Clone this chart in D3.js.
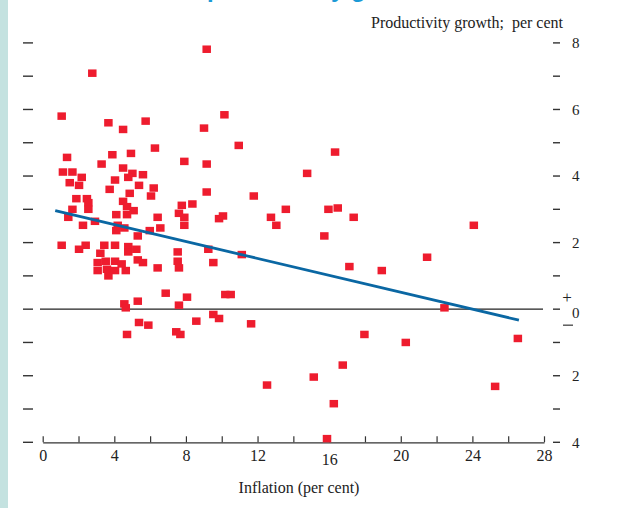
<!DOCTYPE html>
<html>
<head>
<meta charset="utf-8">
<script src="https://cdn.jsdelivr.net/npm/d3@7"></script>
<style>
  html, body { margin: 0; padding: 0; background: #fff; }
  svg { display: block; }
  text { font-family: "Liberation Serif", "Times New Roman", serif; fill: #222; }
</style>
</head>
<body>
<svg id="chart" width="624" height="508"></svg>
<script>
// ========== DATA ==========
// one entry per country-period: inflation (%) and productivity growth (%)
const inflation = [
  9.16, 2.77, 1.06, 3.67, 4.49, 5.75, 9.01, 6.27, 1.36, 3.89, 4.93, 3.29, 7.91, 9.16,
  1.13, 1.66, 4.49, 2.18, 5.01, 4.78, 5.60, 1.51, 2.03, 4.04, 5.38, 3.74, 6.20, 4.86,
  6.05, 9.16, 1.88, 2.47, 2.55, 4.49, 4.71, 7.77, 8.36, 1.66, 2.55, 5.08, 7.61, 1.43,
  4.11, 4.71, 6.42, 7.91, 2.92, 2.25, 4.19, 7.91, 4.11, 4.56, 6.57, 5.98, 5.31,
  1.06, 2.40, 2.03, 3.44, 4.04, 4.78, 5.23, 3.22, 4.78, 5.31, 5.60, 7.54, 9.25, 7.54,
  7.61, 6.42, 9.53, 3.07, 3.52, 4.04, 4.41, 3.07, 3.59, 4.04, 4.64, 3.67, 6.87, 8.06,
  5.31, 4.56, 4.64, 7.61, 5.38, 5.90, 8.58, 4.71, 7.46, 7.69,
  10.15, 10.95, 16.33, 14.77, 11.79, 13.58, 15.96, 16.48, 9.85, 10.07, 12.75, 13.05,
  17.37, 15.73, 11.12, 17.13, 10.20, 10.50, 9.53, 9.85, 11.64, 17.97, 16.76, 15.14,
  12.53, 16.26, 15.88, 24.08, 18.94, 21.47, 22.44, 20.28, 26.54, 25.27
];
const productivity = [
  7.81, 7.09, 5.80, 5.60, 5.40, 5.65, 5.44, 4.84, 4.56, 4.64, 4.68, 4.36, 4.44, 4.36,
  4.12, 4.12, 4.24, 3.96, 4.08, 3.96, 4.04, 3.80, 3.72, 3.88, 3.72, 3.60, 3.64, 3.48,
  3.40, 3.52, 3.32, 3.32, 3.20, 3.24, 3.08, 3.12, 3.16, 3.00, 3.00, 2.96, 2.88, 2.76,
  2.84, 2.84, 2.76, 2.76, 2.64, 2.52, 2.52, 2.52, 2.36, 2.44, 2.44, 2.36, 2.20,
  1.92, 1.92, 1.80, 1.92, 1.92, 1.88, 1.80, 1.68, 1.72, 1.48, 1.40, 1.72, 1.80, 1.44,
  1.24, 1.24, 1.40, 1.40, 1.44, 1.44, 1.36, 1.16, 1.20, 1.16, 1.16, 1.00, 0.48, 0.36,
  0.24, 0.16, 0.04, 0.12, -0.40, -0.48, -0.36, -0.76, -0.68, -0.76,
  5.84, 4.92, 4.72, 4.08, 3.40, 3.00, 3.00, 3.04, 2.72, 2.80, 2.76, 2.52,
  2.76, 2.20, 1.64, 1.28, 0.44, 0.44, -0.16, -0.28, -0.44, -0.76, -1.68, -2.04,
  -2.28, -2.84, -3.89, 2.52, 1.16, 1.56, 0.04, -1.00, -0.88, -2.32
];

const trendX = [0.7, 26.6];
const trendY = [2.96, -0.33];

const xTicks = d3.range(0, 29, 2);
const xLabels = [0, 4, 8, 12, 16, 20, 24, 28];
const yTicks = d3.range(-4, 9, 1);
const yLabels = [8, 6, 4, 2, 0, -2, -4];

const titleLead = "Inflation and";
const titleMain = "productivity growth";
const yTitle = "Productivity growth;  per cent";
const xTitle = "Inflation (per cent)";

// ========== SETUP ==========
const svg = d3.select("#chart");

const x = d3.scaleLinear().domain([0, 28]).range([42.7, 544]);
const y = d3.scaleLinear().domain([-4, 8]).range([442.3, 42.9]);

// teal strip on the left edge
svg.append("rect")
  .attr("x", 0).attr("y", 0)
  .attr("width", 8).attr("height", 508)
  .attr("fill", "#c4e2e0");

// title, cut off by the top edge so only descenders show
const title = svg.append("text")
  .attr("y", -3.5)
  .style("font-family", "'Liberation Sans', Arial, sans-serif")
  .style("font-weight", "bold")
  .style("font-size", "24px")
  .style("fill", "#1b9ad6");
title.append("tspan").attr("x", 203).attr("text-anchor", "end").text(titleLead);
title.append("tspan").attr("x", 207).text(titleMain);

// ========== Y TICKS (both sides) ==========
svg.append("g")
  .selectAll("line")
  .data(yTicks)
  .join("line")
  .attr("x1", 23).attr("x2", 33)
  .attr("y1", d => y(d)).attr("y2", d => y(d))
  .attr("stroke", "#333").attr("stroke-width", 1.4);

svg.append("g")
  .selectAll("line")
  .data(yTicks)
  .join("line")
  .attr("x1", 553).attr("x2", 560)
  .attr("y1", d => y(d)).attr("y2", d => y(d))
  .attr("stroke", "#333").attr("stroke-width", 1.4);

svg.append("g")
  .selectAll("text")
  .data(yLabels)
  .join("text")
  .attr("x", 572)
  .attr("y", d => y(d) + (d === 0 ? 4 : 0))
  .attr("dy", "0.35em")
  .style("font-size", "15px")
  .text(d => Math.abs(d));

// plus / minus around the zero label
svg.append("text")
  .attr("x", 567).attr("y", y(0) - 6)
  .attr("text-anchor", "middle")
  .style("font-size", "17px")
  .text("+");
svg.append("line")
  .attr("x1", 563).attr("x2", 573)
  .attr("y1", y(0) + 16).attr("y2", y(0) + 16)
  .attr("stroke", "#333").attr("stroke-width", 1.2);

svg.append("text")
  .attr("x", 563).attr("y", 28)
  .attr("text-anchor", "end")
  .style("font-size", "16px")
  .style("white-space", "pre")
  .text(yTitle);

// ========== X AXIS ==========
const xAxis = d3.axisBottom(x)
  .tickValues(xTicks)
  .tickSize(-6)
  .tickSizeOuter(0)
  .tickPadding(7)
  .tickFormat(d => xLabels.includes(d) ? d : "");

const gx = svg.append("g")
  .attr("transform", `translate(0,${y(-4)})`)
  .call(xAxis);

gx.select(".domain").attr("stroke", "#333").attr("stroke-width", 1.3);
gx.selectAll(".tick line").attr("stroke", "#333").attr("stroke-width", 1.2);
gx.selectAll(".tick text")
  .attr("fill", "#222")
  .style("font-family", "'Liberation Serif', serif")
  .style("font-size", "16px")
  .attr("dy", d => d === 16 ? "1.0em" : "0.71em");

svg.append("text")
  .attr("x", 299).attr("y", 493)
  .attr("text-anchor", "middle")
  .style("font-size", "16px")
  .text(xTitle);

// ========== ZERO LINE ==========
svg.append("line")
  .attr("x1", 40).attr("x2", 543)
  .attr("y1", y(0)).attr("y2", y(0))
  .attr("stroke", "#222").attr("stroke-width", 1.4);

// ========== POINTS ==========
const points = inflation.map((v, i) => ({ inf: v, prod: productivity[i] }));

svg.append("g")
  .selectAll("rect")
  .data(points)
  .join("rect")
  .attr("x", d => x(d.inf) - 4.25)
  .attr("y", d => y(d.prod) - 3.75)
  .attr("width", 8.5)
  .attr("height", 7.5)
  .attr("fill", "#ee1c2e");

// ========== TREND LINE ==========
const line = d3.line()
  .x(d => x(d[0]))
  .y(d => y(d[1]));

svg.append("path")
  .datum(trendX.map((v, i) => [v, trendY[i]]))
  .attr("d", line)
  .attr("fill", "none")
  .attr("stroke", "#0a67a3")
  .attr("stroke-width", 2.8);
</script>
</body>
</html>
